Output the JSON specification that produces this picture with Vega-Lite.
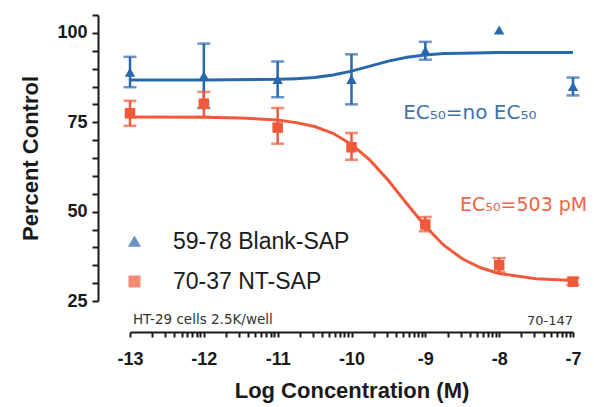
{
  "$schema": "https://vega.github.io/schema/vega-lite/v6.json",
  "width": 443,
  "height": 286,
  "autosize": {"type": "none"},
  "padding": {"left": 130, "top": 15, "right": 21, "bottom": 106},
  "background": "white",
  "config": {
    "view": {"stroke": null},
    "font": "Liberation Sans",
    "axis": {"grid": false, "domainColor": "#1a1a1a", "tickColor": "#1a1a1a", "domainWidth": 2, "tickWidth": 2, "labelColor": "#1a1a1a", "titleColor": "#1a1a1a", "labelFont": "Liberation Sans", "titleFont": "Liberation Sans", "labelFontWeight": "bold", "titleFontWeight": "bold", "labelFontSize": 18, "titleFontSize": 22, "labelOverlap": false, "labelBound": false, "labelFlush": false}
  },
  "datasets": {
    "curves": [
      {"series": "59-78 Blank-SAP", "x": -13, "y": 86.8},
      {"series": "59-78 Blank-SAP", "x": -12, "y": 86.8},
      {"series": "59-78 Blank-SAP", "x": -11, "y": 87.0},
      {"series": "59-78 Blank-SAP", "x": -10.75, "y": 87.2},
      {"series": "59-78 Blank-SAP", "x": -10.5, "y": 87.5},
      {"series": "59-78 Blank-SAP", "x": -10.25, "y": 88.2},
      {"series": "59-78 Blank-SAP", "x": -10, "y": 89.3},
      {"series": "59-78 Blank-SAP", "x": -9.75, "y": 90.7},
      {"series": "59-78 Blank-SAP", "x": -9.5, "y": 92.1},
      {"series": "59-78 Blank-SAP", "x": -9.25, "y": 93.2},
      {"series": "59-78 Blank-SAP", "x": -9, "y": 93.8},
      {"series": "59-78 Blank-SAP", "x": -8.75, "y": 94.2},
      {"series": "59-78 Blank-SAP", "x": -8.5, "y": 94.3},
      {"series": "59-78 Blank-SAP", "x": -8, "y": 94.5},
      {"series": "59-78 Blank-SAP", "x": -7, "y": 94.5},
      {"series": "70-37 NT-SAP", "x": -13, "y": 76.5},
      {"series": "70-37 NT-SAP", "x": -12, "y": 76.4},
      {"series": "70-37 NT-SAP", "x": -11.5, "y": 76.2},
      {"series": "70-37 NT-SAP", "x": -11, "y": 75.6},
      {"series": "70-37 NT-SAP", "x": -10.75, "y": 74.9},
      {"series": "70-37 NT-SAP", "x": -10.5, "y": 73.8},
      {"series": "70-37 NT-SAP", "x": -10.25, "y": 71.9},
      {"series": "70-37 NT-SAP", "x": -10, "y": 68.8},
      {"series": "70-37 NT-SAP", "x": -9.75, "y": 64.4},
      {"series": "70-37 NT-SAP", "x": -9.5, "y": 58.7},
      {"series": "70-37 NT-SAP", "x": -9.25, "y": 52.2},
      {"series": "70-37 NT-SAP", "x": -9, "y": 45.9},
      {"series": "70-37 NT-SAP", "x": -8.75, "y": 40.6},
      {"series": "70-37 NT-SAP", "x": -8.5, "y": 36.8},
      {"series": "70-37 NT-SAP", "x": -8.25, "y": 34.3},
      {"series": "70-37 NT-SAP", "x": -8, "y": 32.7},
      {"series": "70-37 NT-SAP", "x": -7.5, "y": 31.2},
      {"series": "70-37 NT-SAP", "x": -7, "y": 30.7}
    ],
    "points": [
      {"series": "59-78 Blank-SAP", "x": -13, "y": 89, "lo": 84.8, "hi": 93.3},
      {"series": "59-78 Blank-SAP", "x": -12, "y": 88, "lo": 79, "hi": 97},
      {"series": "59-78 Blank-SAP", "x": -11, "y": 87, "lo": 82, "hi": 92},
      {"series": "59-78 Blank-SAP", "x": -10, "y": 87, "lo": 80, "hi": 94},
      {"series": "59-78 Blank-SAP", "x": -9, "y": 95, "lo": 92.5, "hi": 97.5},
      {"series": "59-78 Blank-SAP", "x": -8, "y": 100.8, "lo": null, "hi": null},
      {"series": "59-78 Blank-SAP", "x": -7, "y": 85, "lo": 82.5, "hi": 87.5},
      {"series": "70-37 NT-SAP", "x": -13, "y": 77.5, "lo": 74, "hi": 81},
      {"series": "70-37 NT-SAP", "x": -12, "y": 80.2, "lo": 76.5, "hi": 83.5},
      {"series": "70-37 NT-SAP", "x": -11, "y": 73.5, "lo": 69, "hi": 79},
      {"series": "70-37 NT-SAP", "x": -10, "y": 68, "lo": 64.5, "hi": 72},
      {"series": "70-37 NT-SAP", "x": -9, "y": 46.4, "lo": 44.5, "hi": 48.5},
      {"series": "70-37 NT-SAP", "x": -8, "y": 35, "lo": 33, "hi": 37},
      {"series": "70-37 NT-SAP", "x": -7, "y": 30.4, "lo": 29.5, "hi": 31.5}
    ]
  },
  "layer": [
    {
      "data": {"name": "curves"},
      "mark": {"type": "line", "strokeWidth": 3, "clip": false},
      "encoding": {
        "x": {"field": "x", "type": "quantitative", "scale": {"domain": [-13, -7], "nice": false, "zero": false},
          "axis": {"title": "Log Concentration (M)", "offset": 31, "titlePadding": 12, "labelPadding": 13, "tickSize": 5, "tickCount": 200,
            "values": [-13, -12.699, -12.523, -12.398, -12.301, -12.222, -12.155, -12.097, -12.046, -12, -11.699, -11.523, -11.398, -11.301, -11.222, -11.155, -11.097, -11.046, -11, -10.699, -10.523, -10.398, -10.301, -10.222, -10.155, -10.097, -10.046, -10, -9.699, -9.523, -9.398, -9.301, -9.222, -9.155, -9.097, -9.046, -9, -8.699, -8.523, -8.398, -8.301, -8.222, -8.155, -8.097, -8.046, -8, -7.699, -7.523, -7.398, -7.301, -7.222, -7.155, -7.097, -7.046, -7],
            "labelExpr": "abs(datum.value - round(datum.value)) < 0.001 ? '' + round(datum.value) : ''"}},
        "y": {"field": "y", "type": "quantitative", "scale": {"domain": [25, 105], "nice": false, "zero": false},
          "axis": {"title": "Percent Control", "offset": 32, "titlePadding": 14, "labelPadding": 5, "tickSize": 6, "tickCount": 200,
            "values": [25, 30, 35, 40, 45, 50, 55, 60, 65, 70, 75, 80, 85, 90, 95, 100, 105],
            "labelExpr": "(datum.value == 25 || datum.value == 50 || datum.value == 75 || datum.value == 100) ? '' + datum.value : ''"}},
        "color": {"field": "series", "type": "nominal", "scale": {"domain": ["59-78 Blank-SAP", "70-37 NT-SAP"], "range": ["#2868ad", "#ef5a3c"]}}
      }
    },
    {
      "data": {"name": "points"},
      "mark": {"type": "rule", "strokeWidth": 2.5, "clip": false},
      "encoding": {
        "x": {"field": "x", "type": "quantitative"},
        "y": {"field": "lo", "type": "quantitative"},
        "y2": {"field": "hi"},
        "color": {"field": "series", "type": "nominal"}
      }
    },
    {
      "data": {"name": "points"},
      "mark": {"type": "tick", "orient": "horizontal", "size": 13, "thickness": 2.5, "clip": false},
      "encoding": {
        "x": {"field": "x", "type": "quantitative"},
        "y": {"field": "lo", "type": "quantitative"},
        "color": {"field": "series", "type": "nominal"}
      }
    },
    {
      "data": {"name": "points"},
      "mark": {"type": "tick", "orient": "horizontal", "size": 13, "thickness": 2.5, "clip": false},
      "encoding": {
        "x": {"field": "x", "type": "quantitative"},
        "y": {"field": "hi", "type": "quantitative"},
        "color": {"field": "series", "type": "nominal"}
      }
    },
    {
      "data": {"name": "points"},
      "mark": {"type": "point", "filled": true, "opacity": 1, "size": 110, "clip": false},
      "encoding": {
        "x": {"field": "x", "type": "quantitative"},
        "y": {"field": "y", "type": "quantitative"},
        "color": {"field": "series", "type": "nominal", "title": null,
          "legend": {"orient": "none", "legendX": -7, "legendY": 215, "labelFontSize": 23, "labelFont": "Liberation Sans", "labelColor": "#1a1a1a", "symbolSize": 110, "symbolOpacity": 1, "rowPadding": 16, "labelOffset": 27, "padding": 0, "labelLimit": 300}},
        "shape": {"field": "series", "type": "nominal", "title": null, "scale": {"domain": ["59-78 Blank-SAP", "70-37 NT-SAP"], "range": ["triangle-up", "square"]}}
      }
    },
    {
      "data": {"values": [{"x": -9.3, "y": 77.6, "label": "EC₅₀=no EC₅₀"}]},
      "mark": {"type": "text", "align": "left", "baseline": "middle", "font": "DejaVu Sans", "fontSize": 20, "color": "#3f72ad", "clip": false},
      "encoding": {"x": {"field": "x", "type": "quantitative"}, "y": {"field": "y", "type": "quantitative"}, "text": {"field": "label"}}
    },
    {
      "data": {"values": [{"x": -8.53, "y": 51.9, "label": "EC₅₀=503 pM"}]},
      "mark": {"type": "text", "align": "left", "baseline": "middle", "font": "DejaVu Sans", "fontSize": 19, "color": "#ef6447", "clip": false},
      "encoding": {"x": {"field": "x", "type": "quantitative"}, "y": {"field": "y", "type": "quantitative"}, "text": {"field": "label"}}
    },
    {
      "data": {"values": [{"x": -12.96, "y": 19.7, "label": "HT-29 cells 2.5K/well"}]},
      "mark": {"type": "text", "align": "left", "baseline": "middle", "font": "DejaVu Sans", "fontSize": 13.5, "color": "#333333", "clip": false},
      "encoding": {"x": {"field": "x", "type": "quantitative"}, "y": {"field": "y", "type": "quantitative"}, "text": {"field": "label"}}
    },
    {
      "data": {"values": [{"x": -7, "y": 19.3, "label": "70-147"}]},
      "mark": {"type": "text", "align": "right", "baseline": "middle", "font": "DejaVu Sans", "fontSize": 13, "color": "#333333", "clip": false},
      "encoding": {"x": {"field": "x", "type": "quantitative"}, "y": {"field": "y", "type": "quantitative"}, "text": {"field": "label"}}
    }
  ]
}
